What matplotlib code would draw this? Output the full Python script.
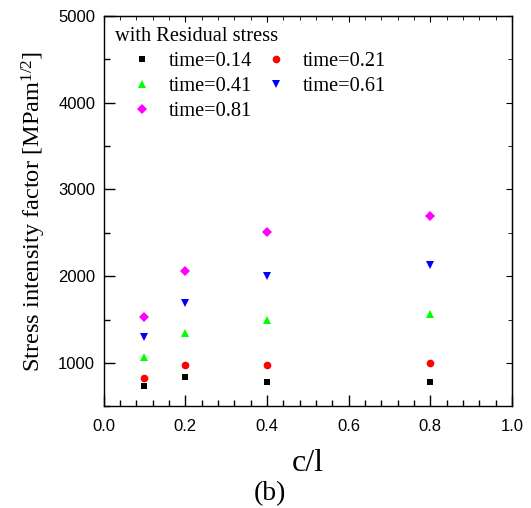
import numpy as np
from matplotlib import pyplot as plt
from matplotlib.ticker import MultipleLocator

plt.rcParams['mathtext.fontset'] = 'custom'
plt.rcParams['mathtext.rm'] = 'Liberation Serif'
plt.rcParams['mathtext.it'] = 'Liberation Serif:italic'

# values
c_over_l = [0.1, 0.2, 0.4, 0.8]
times = ['0.14', '0.21', '0.41', '0.61', '0.81']
sif_t014 = [731, 843, 785, 777]
sif_t021 = [823, 978, 982, 997]
sif_t041 = [1070, 1351, 1501, 1570]
sif_t061 = [1297, 1690, 1998, 2125]
sif_t081 = [1532, 2055, 2514, 2694]

series = [sif_t014, sif_t021, sif_t041, sif_t061, sif_t081]
colors = ['k', '#ff0000', '#00ff00', '#0000ff', '#ff00ff']
markers = ['s', 'o', '^', 'v', 'D']
sizes = [5, 5.5, 6, 6, 5]

fig = plt.figure(figsize=(5.31, 5.08), dpi=100)
ax = fig.add_axes([0.195, 0.2, 0.769, 0.769])

handles = []
for vals, col, mk, ms, t in zip(series, colors, markers, sizes, times):
    h, = ax.plot(c_over_l, vals, linestyle='none', marker=mk, color=col, markersize=ms,
                 markeredgewidth=0, label=f'time={t}')
    handles.append(h)

ax.set_xlim(0.0, 1.0)
ax.set_ylim(500, 5000)
ax.xaxis.set_major_locator(MultipleLocator(0.2))
ax.xaxis.set_minor_locator(MultipleLocator(0.04))
ax.yaxis.set_major_locator(MultipleLocator(1000))
ax.yaxis.set_minor_locator(MultipleLocator(500))
ax.set_yticks([1000, 2000, 3000, 4000, 5000])

ax.tick_params(which='both', direction='in', top=False, right=False)
ax.tick_params(which='major', length=8, width=1)
ax.tick_params(which='minor', length=4.5, width=1)
for tl in ax.get_xticklabels() + ax.get_yticklabels():
    tl.set_fontname('Liberation Sans')
    tl.set_fontsize(12)
ax.tick_params(axis='x', pad=9)
ax.tick_params(axis='y', pad=6)

# top/right ticks are shorter in the original
top = ax.secondary_xaxis('top')
top.xaxis.set_major_locator(MultipleLocator(0.2))
top.xaxis.set_minor_locator(MultipleLocator(0.04))
top.tick_params(which='both', direction='in', labeltop=False)
top.tick_params(which='major', length=4.5)
top.tick_params(which='minor', length=3)
right = ax.secondary_yaxis('right')
right.yaxis.set_major_locator(MultipleLocator(1000))
right.yaxis.set_minor_locator(MultipleLocator(500))
right.tick_params(which='both', direction='in', labelright=False)
right.tick_params(which='major', length=4.5)
right.tick_params(which='minor', length=3)

for sp in ax.spines.values():
    sp.set_linewidth(1)

ax.set_ylabel('Stress intensity factor [MPam$^{1/2}$]', fontname='Liberation Serif', fontsize=17.6,
              labelpad=7)
ax.set_xlabel('c/l', fontname='Liberation Serif', fontsize=23, labelpad=11)
fig.text(0.508, 0.0276, '(b)', fontname='Liberation Serif', fontsize=20, ha='center', va='center')

order = [0, 2, 4, 1, 3]
leg = ax.legend([handles[i] for i in order], [handles[i].get_label() for i in order],
                title='with Residual stress', ncol=2, loc='upper left', frameon=False,
                prop={'family': 'Liberation Serif', 'size': 14.7},
                title_fontproperties={'family': 'Liberation Serif', 'size': 14.7},
                alignment='left', handletextpad=0.0, columnspacing=-0.15, labelspacing=0.28,
                borderaxespad=0.15, handlelength=2.65)

plt.savefig('out.png', dpi=100)
